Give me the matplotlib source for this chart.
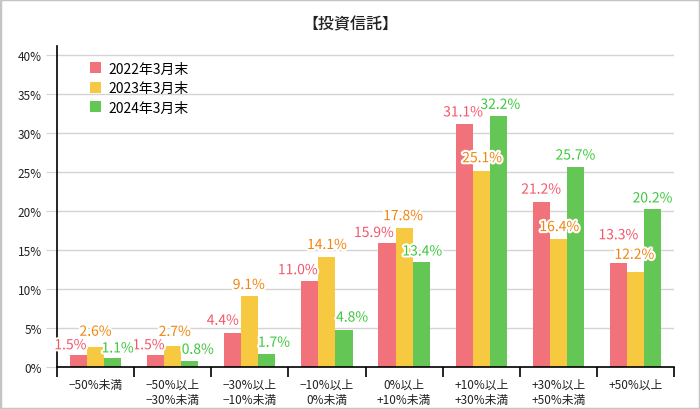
import numpy as np
import matplotlib
matplotlib.use("Agg")
from matplotlib import pyplot as plt
from matplotlib import patheffects as pe
from matplotlib.patches import Rectangle

plt.rcParams['font.family'] = ['Noto Sans CJK JP', 'DejaVu Sans']

categories = ["−50%未満", "−50%以上\n−30%未満", "−30%以上\n−10%未満", "−10%以上\n0%未満",
              "0%以上\n+10%未満", "+10%以上\n+30%未満", "+30%以上\n+50%未満", "+50%以上"]
series = ["2022年3月末", "2023年3月末", "2024年3月末"]
v2022 = [1.5, 1.5, 4.4, 11.0, 15.9, 31.1, 21.2, 13.3]
v2023 = [2.6, 2.7, 9.1, 14.1, 17.8, 25.1, 16.4, 12.2]
v2024 = [1.1, 0.8, 1.7, 4.8, 13.4, 32.2, 25.7, 20.2]
yticks = [0, 5, 10, 15, 20, 25, 30, 35, 40]

bar_colors = ["#f2727b", "#f6c940", "#64c654"]
text_colors = ["#f5566a", "#f0860e", "#3cc83c"]

# label offsets in pixels (dx, dy above bar top), per series per category
offsets = [
    [(-8, 10), (-7, 10), (-10, 12), (-12, 11), (-13, 10), (-1, 12), (0, 12), (0, 28)],
    [(0, 15), (2, 14), (-1, 11), (0, 12), (-1, 12), (1, 13), (1, 12), (-1, 17)],
    [(5, 10), (8, 11), (7, 11), (8, 12), (1, 11), (2, 11), (0, 11), (0, 11)],
]

fig = plt.figure(figsize=(7, 4.1), dpi=100)
fig.patches.append(Rectangle((0, 0), 1, 1, transform=fig.transFigure, fill=False,
                             edgecolor="#c4c4c4", linewidth=2.5))
ax = fig.add_axes([57 / 700, 1 - 368 / 410, 617 / 700, 321 / 410])

x = np.arange(len(categories))
w = 0.222
data = [v2022, v2023, v2024]
for i, vals in enumerate(data):
    xs = x + (i - 1) * w
    ax.bar(xs, vals, w, color=bar_colors[i], label=series[i], zorder=2)
    for j, v in enumerate(vals):
        dx, dy = offsets[i][j]
        ax.annotate(f"{v:.1f}%", (xs[j], v), xytext=(dx, dy), textcoords="offset pixels",
                    ha="center", va="center", fontsize=10,
                    color=text_colors[i], zorder=5,
                    path_effects=[pe.withStroke(linewidth=3, foreground="white")])

ax.set_xlim(-0.5, len(categories) - 0.5)
ax.set_ylim(0, 40 * 321 / 312)
ax.set_yticks(yticks)
ax.set_yticklabels([f"{t}%" for t in yticks], fontsize=8.5, color="#222222")
ax.yaxis.grid(True, color="#d4d4d4", linewidth=1, zorder=0)
ax.tick_params(axis="y", length=8, color="#d4d4d4", pad=3)
ax.set_xticks(x)
ax.set_xticklabels(categories, fontsize=8.5, color="#222222", linespacing=1.2)
ax.set_xticks(np.arange(len(categories) + 1) - 0.5, minor=True)
ax.tick_params(axis="x", which="major", length=0, pad=8)
ax.tick_params(axis="x", which="minor", length=7, width=1.2, color="black")
for s in ["top", "right"]:
    ax.spines[s].set_visible(False)
ax.spines["left"].set_linewidth(1.2)
ax.spines["bottom"].set_linewidth(1.2)

ax.legend(loc="upper left", bbox_to_anchor=(84 / 700, 1 - 57 / 410), bbox_transform=fig.transFigure,
          frameon=False, fontsize=10, handlelength=0.85, handleheight=0.85, handletextpad=0.5,
          labelspacing=0.4, borderaxespad=0)

fig.text(0.5, 1 - 25 / 410, "【投資信託】", ha="center", va="center", fontsize=11.5,
         fontweight="medium", color="#222222")

plt.savefig("out.png", dpi=100)
